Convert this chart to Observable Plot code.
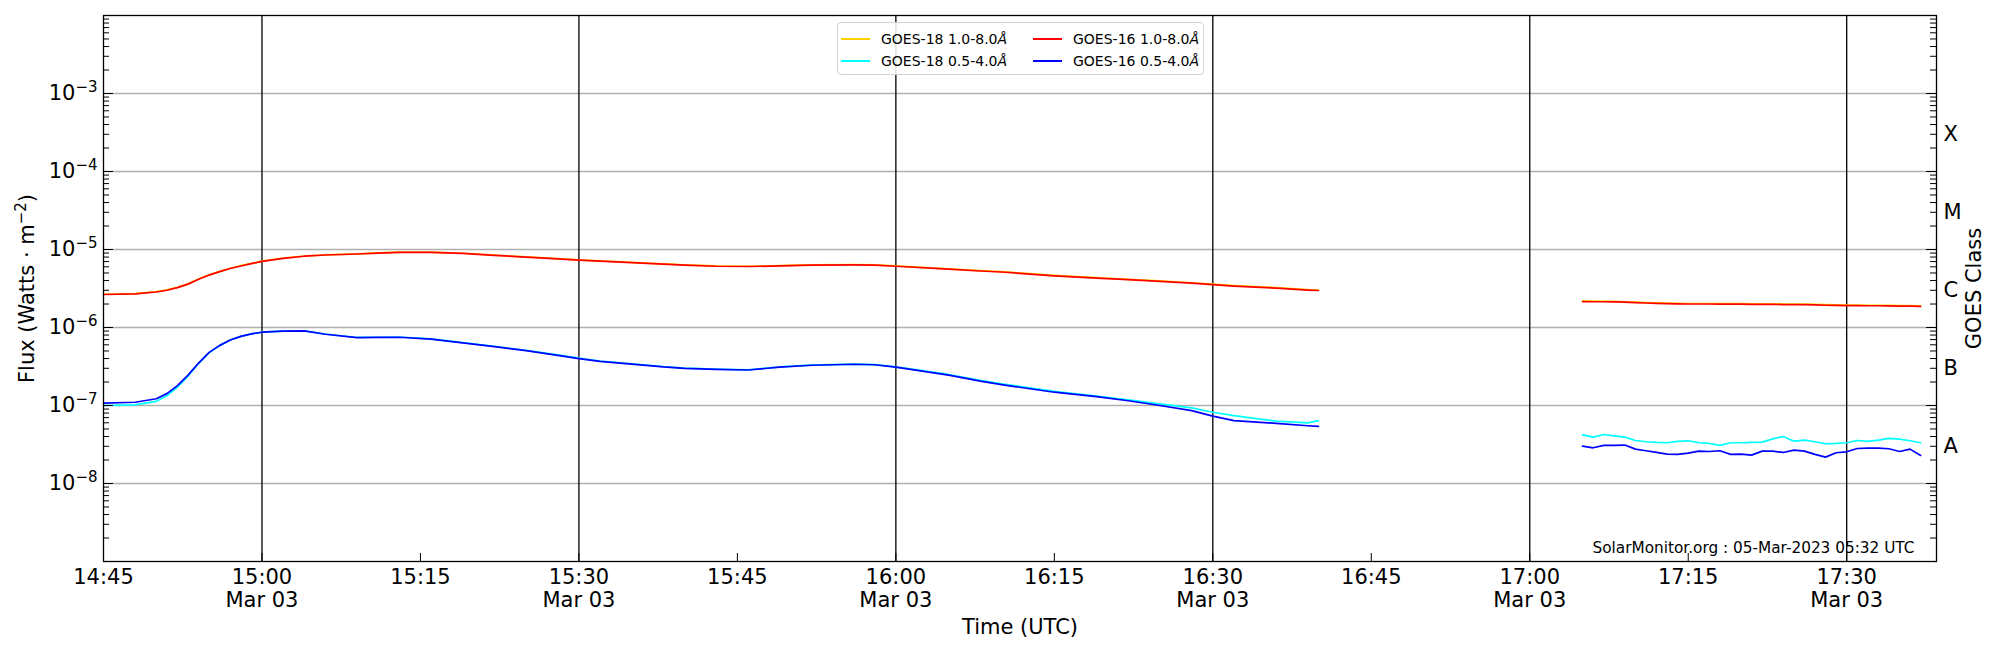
<!DOCTYPE html>
<html><head><meta charset="utf-8">
<script src="https://cdn.jsdelivr.net/npm/d3@7"></script>
<script src="https://cdn.jsdelivr.net/npm/@observablehq/plot@0.6"></script>
<style>
body{margin:0;background:#fff;font-family:"DejaVu Sans",sans-serif;}
#wrap{position:relative;width:2000px;height:650px;}
#legend{position:absolute;left:837px;top:22px;width:365px;height:51px;border:1px solid #d3d3d3;border-radius:4px;background:rgba(255,255,255,0.85);font-size:14px;color:#000;}
.item{position:absolute;display:flex;align-items:center;height:20px;white-space:nowrap;}
.swatch{width:29px;height:0;border-top:2px solid;margin-right:11px;}
</style></head><body><div id="wrap"><div id="legend"></div></div>
<script>
// ---- data ----
const seg1Times = ["14:45","14:48","14:50","14:51","14:52","14:53","14:54","14:55","14:56","14:57","14:58","14:59","15:00","15:02","15:04","15:06","15:09","15:11","15:13","15:16","15:19","15:22","15:25","15:28","15:30","15:32","15:35","15:38","15:40","15:43","15:46","15:49","15:52","15:56","15:58","16:00","16:05","16:08","16:10","16:15","16:19","16:22","16:25","16:28","16:30","16:32","16:36","16:39","16:40"];
const g16LongSeg1 = [2.65e-6,2.70e-6,2.85e-6,3.0e-6,3.25e-6,3.6e-6,4.15e-6,4.7e-6,5.2e-6,5.7e-6,6.15e-6,6.6e-6,7.05e-6,7.7e-6,8.2e-6,8.5e-6,8.75e-6,9.0e-6,9.2e-6,9.2e-6,8.9e-6,8.4e-6,8.0e-6,7.6e-6,7.3e-6,7.1e-6,6.8e-6,6.5e-6,6.3e-6,6.1e-6,6.05e-6,6.15e-6,6.3e-6,6.35e-6,6.3e-6,6.1e-6,5.6e-6,5.3e-6,5.15e-6,4.6e-6,4.3e-6,4.1e-6,3.9e-6,3.7e-6,3.55e-6,3.4e-6,3.2e-6,3.02e-6,2.98e-6];
const g18LongSeg1 = [2.67e-6,2.72e-6,2.88e-6,3.03e-6,3.28e-6,3.63e-6,4.18e-6,4.74e-6,5.25e-6,5.75e-6,6.2e-6,6.65e-6,7.1e-6,7.75e-6,8.25e-6,8.55e-6,8.8e-6,9.05e-6,9.25e-6,9.25e-6,8.95e-6,8.45e-6,8.05e-6,7.65e-6,7.35e-6,7.15e-6,6.85e-6,6.55e-6,6.35e-6,6.15e-6,6.1e-6,6.2e-6,6.35e-6,6.4e-6,6.35e-6,6.15e-6,5.65e-6,5.35e-6,5.2e-6,4.65e-6,4.35e-6,4.15e-6,3.95e-6,3.75e-6,3.6e-6,3.45e-6,3.25e-6,3.06e-6,3.02e-6];
const g16ShortSeg1 = [1.07e-7,1.1e-7,1.22e-7,1.42e-7,1.8e-7,2.45e-7,3.5e-7,4.8e-7,5.9e-7,6.9e-7,7.7e-7,8.3e-7,8.7e-7,9.0e-7,9.05e-7,8.2e-7,7.4e-7,7.45e-7,7.5e-7,7.1e-7,6.35e-7,5.7e-7,5.05e-7,4.4e-7,4.0e-7,3.67e-7,3.4e-7,3.12e-7,3.0e-7,2.9e-7,2.85e-7,3.1e-7,3.28e-7,3.38e-7,3.33e-7,3.1e-7,2.45e-7,2.05e-7,1.85e-7,1.48e-7,1.3e-7,1.15e-7,1.0e-7,8.6e-8,7.3e-8,6.4e-8,5.9e-8,5.5e-8,5.4e-8];
const g18ShortSeg1 = [1.0e-7,1.02e-7,1.13e-7,1.33e-7,1.72e-7,2.38e-7,3.45e-7,4.75e-7,5.85e-7,6.9e-7,7.7e-7,8.3e-7,8.7e-7,9.0e-7,9.05e-7,8.25e-7,7.45e-7,7.5e-7,7.55e-7,7.15e-7,6.4e-7,5.75e-7,5.1e-7,4.45e-7,4.05e-7,3.7e-7,3.43e-7,3.15e-7,3.02e-7,2.92e-7,2.87e-7,3.12e-7,3.3e-7,3.4e-7,3.35e-7,3.13e-7,2.5e-7,2.1e-7,1.9e-7,1.52e-7,1.32e-7,1.18e-7,1.05e-7,9.3e-8,8.2e-8,7.4e-8,6.3e-8,6.0e-8,6.4e-8];

const seg2Times = ["17:05","17:06","17:07","17:08","17:09","17:10","17:11","17:12","17:13","17:14","17:15","17:16","17:17","17:18","17:19","17:20","17:21","17:22","17:23","17:24","17:25","17:26","17:27","17:28","17:29","17:30","17:31","17:32","17:33","17:34","17:35","17:36","17:37"];
const g16LongSeg2 = [2.15e-6,2.14e-6,2.14e-6,2.13e-6,2.11e-6,2.08e-6,2.06e-6,2.04e-6,2.02e-6,2.01e-6,2.0e-6,2.0e-6,2.0e-6,1.99e-6,1.99e-6,1.99e-6,1.98e-6,1.98e-6,1.98e-6,1.97e-6,1.97e-6,1.97e-6,1.95e-6,1.93e-6,1.92e-6,1.91e-6,1.91e-6,1.90e-6,1.90e-6,1.89e-6,1.88e-6,1.88e-6,1.87e-6];
const g18LongSeg2 = [2.19e-6,2.18e-6,2.17e-6,2.16e-6,2.14e-6,2.11e-6,2.09e-6,2.07e-6,2.05e-6,2.04e-6,2.03e-6,2.03e-6,2.03e-6,2.02e-6,2.02e-6,2.02e-6,2.01e-6,2.01e-6,2.01e-6,2.0e-6,2.0e-6,2.0e-6,1.98e-6,1.96e-6,1.95e-6,1.94e-6,1.94e-6,1.93e-6,1.93e-6,1.92e-6,1.91e-6,1.91e-6,1.9e-6];
const g16ShortSeg2 = [3.01e-8,2.87e-8,3.08e-8,3.08e-8,3.11e-8,2.76e-8,2.63e-8,2.50e-8,2.38e-8,2.36e-8,2.45e-8,2.60e-8,2.57e-8,2.63e-8,2.36e-8,2.38e-8,2.31e-8,2.60e-8,2.60e-8,2.50e-8,2.68e-8,2.60e-8,2.36e-8,2.18e-8,2.48e-8,2.55e-8,2.81e-8,2.84e-8,2.84e-8,2.79e-8,2.57e-8,2.76e-8,2.29e-8];
const g18ShortSeg2 = [4.21e-8,3.93e-8,4.25e-8,4.09e-8,3.93e-8,3.56e-8,3.43e-8,3.36e-8,3.33e-8,3.46e-8,3.53e-8,3.33e-8,3.26e-8,3.08e-8,3.33e-8,3.33e-8,3.36e-8,3.39e-8,3.74e-8,4.01e-8,3.49e-8,3.60e-8,3.43e-8,3.23e-8,3.26e-8,3.33e-8,3.56e-8,3.46e-8,3.60e-8,3.78e-8,3.71e-8,3.53e-8,3.33e-8];

const seriesNames = ["GOES-18 1.0-8.0Å","GOES-18 0.5-4.0Å","GOES-16 1.0-8.0Å","GOES-16 0.5-4.0Å"];
const seriesColors = ["#ffd000","#00ffff","#ff0000","#0000ff"];

const xTickTimes = ["14:45","15:00","15:15","15:30","15:45","16:00","16:15","16:30","16:45","17:00","17:15","17:30"];
const majorTimes = ["15:00","15:30","16:00","16:30","17:00","17:30"];
const decades = [1e-9,1e-8,1e-7,1e-6,1e-5,1e-4,1e-3,1e-2];
const labeledDecades = [1e-8,1e-7,1e-6,1e-5,1e-4,1e-3];
const classTicks = [3.16e-8,3.16e-7,3.16e-6,3.16e-5,3.16e-4];
const classLabels = ["A","B","C","M","X"];
const watermark = "SolarMonitor.org : 05-Mar-2023 05:32 UTC";
const xDomain = ["14:45:00","17:38:30"];

// ---- build ----
const T = s => new Date(`2023-03-03T${s.length === 5 ? s + ":00" : s}Z`);
const rows = [];
function add(name, times, vals, seg) { times.forEach((t, i) => rows.push({series: name, seg, time: T(t), flux: vals[i]})); }
add(seriesNames[0], seg1Times, g18LongSeg1, 1); add(seriesNames[0], seg2Times, g18LongSeg2, 2);
add(seriesNames[1], seg1Times, g18ShortSeg1, 1); add(seriesNames[1], seg2Times, g18ShortSeg2, 2);
add(seriesNames[2], seg1Times, g16LongSeg1, 1); add(seriesNames[2], seg2Times, g16LongSeg2, 2);
add(seriesNames[3], seg1Times, g16ShortSeg1, 1); add(seriesNames[3], seg2Times, g16ShortSeg2, 2);

const minor = [];
decades.slice(0, -1).forEach(d => { for (let k = 2; k <= 9; k++) minor.push(k * d); });

const W = 2000, H = 650, mL = 103, mR = 64, mT = 15, mB = 89;
const plotW = W - mL - mR, plotH = H - mT - mB;
const xTicks = xTickTimes.map(T);
const fmtHM = d3.utcFormat("%H:%M"), fmtD = d3.utcFormat("%b %d");
const classRows = classTicks.map((v, i) => ({flux: v, label: classLabels[i]}));

const lineMarks = seriesNames.map((n, i) =>
  Plot.line(rows.filter(r => r.series === n), {x: "time", y: "flux", z: "seg", stroke: seriesColors[i], strokeWidth: 1.7}));

const chart = Plot.plot({
  width: W, height: H, marginLeft: mL, marginRight: mR, marginTop: mT, marginBottom: mB,
  style: {fontFamily: "DejaVu Sans", background: "white", color: "black"},
  x: {type: "utc", domain: xDomain.map(T)},
  y: {type: "log", domain: [1e-9, 1e-2]},
  marks: [
    Plot.ruleY(labeledDecades, {y: d => d, stroke: "#b0b0b0", strokeWidth: 1.3}),
    Plot.ruleX(majorTimes.map(T), {x: d => d, stroke: "black", strokeWidth: 1.3}),
    ...lineMarks,
    Plot.tickX(xTicks, {x: d => d, insetTop: plotH - 8, stroke: "black"}),
    Plot.tickY(decades, {y: d => d, insetRight: plotW - 10, stroke: "black"}),
    Plot.tickY(minor, {y: d => d, insetRight: plotW - 6, stroke: "black"}),
    Plot.tickY(decades, {y: d => d, insetLeft: plotW - 10, stroke: "black"}),
    Plot.tickY(minor, {y: d => d, insetLeft: plotW - 6, stroke: "black"}),
    Plot.axisX({ticks: xTicks, tickSize: 0, tickPadding: 6, fontSize: 21, lineHeight: 1.1,
      tickFormat: d => d.getUTCMinutes() % 30 === 0 ? fmtHM(d) + "\n" + fmtD(d) : fmtHM(d),
      label: "Time (UTC)", labelAnchor: "center", labelOffset: 72, labelArrow: "none"}),
    Plot.axisY({anchor: "left", ticks: labeledDecades, tickSize: 0, tickPadding: 6, fontSize: 21,
      tickFormat: d => "10^" + Math.round(Math.log10(d)),
      label: "Flux (Watts · m^-2)", labelAnchor: "center", labelOffset: 84, labelArrow: "none"}),
    // GOES class letters on the right side
    Plot.text(classRows, {y: "flux", text: "label", frameAnchor: "right", textAnchor: "start", dx: 7, dy: 2, fontSize: 21}),
    Plot.text(["GOES Class"], {text: d => d, frameAnchor: "right", textAnchor: "middle", lineAnchor: "middle", rotate: -90, dx: 38, fontSize: 21}),
    Plot.text([watermark], {text: d => d, frameAnchor: "bottom-right", textAnchor: "end", lineAnchor: "bottom", dx: -22, dy: -9, fontSize: 15.3}),
    Plot.frame({stroke: "black", strokeWidth: 1.3})
  ]
});

// superscripts
d3.select(chart).selectAll('g[aria-label="y-axis tick label"] text').each(function () {
  const t = this.textContent;
  if (t.startsWith("10^")) {
    const e = t.slice(3).replace("-", "\u2212");
    this.textContent = "10";
    d3.select(this).append("tspan").attr("dy", "-0.55em").attr("font-size", "15px").text(e);
  }
});
d3.select(chart).selectAll('g[aria-label="y-axis label"] text').each(function () {
  const t = this.textContent;
  if (t.includes("m^-2")) {
    this.textContent = "Flux (Watts · m";
    d3.select(this).append("tspan").attr("dy", "-8").attr("font-size", "15px").text("\u22122");
    d3.select(this).append("tspan").attr("dy", "8").attr("font-size", "21px").text(")");
  }
});

document.getElementById("wrap").prepend(chart);
chart.style.position = "absolute"; chart.style.left = "0"; chart.style.top = "0";

// legend (column-major like the original)
const leg = document.getElementById("legend");
const pos = [[3, 6], [3, 28], [195, 6], [195, 28]];
seriesNames.forEach((n, i) => {
  const it = document.createElement("div");
  it.className = "item";
  it.style.left = pos[i][0] + "px"; it.style.top = pos[i][1] + "px";
  const sw = document.createElement("span"); sw.className = "swatch"; sw.style.borderColor = seriesColors[i];
  const tx = document.createElement("span");
  tx.innerHTML = n.replace("Å", "<i>Å</i>");
  it.append(sw, tx); leg.append(it);
});
</script></body></html>
